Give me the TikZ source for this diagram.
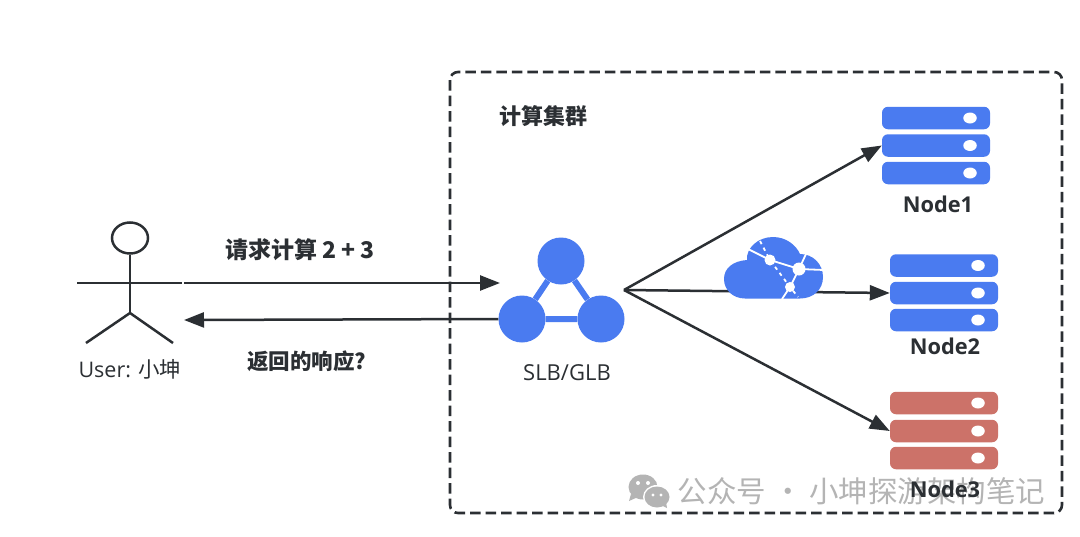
\documentclass[tikz,border=0pt]{standalone}
\usepackage{fontspec}
\setmainfont{Open Sans}
\newfontfamily\cjk{Noto Sans CJK SC}
\usetikzlibrary{arrows.meta,shapes.geometric}
\definecolor{bluefill}{HTML}{4A7BF0}
\definecolor{redfill}{HTML}{CC7269}
\definecolor{inkdark}{HTML}{2B2F33}
\definecolor{wm}{HTML}{B4B4B4}
\tikzset{
  rackbar/.style={rounded corners=6pt,minimum width=108pt,minimum height=22.5pt,inner sep=0pt,fill=#1,draw=none},
  rackdot/.style={ellipse,minimum width=13.5pt,minimum height=11pt,inner sep=0pt,fill=white,draw=none},
  hubball/.style={circle,minimum size=47pt,inner sep=0pt,fill=bluefill,draw=none},
  flow/.style={draw=inkdark,line width=2.5pt,-{Triangle[length=20pt,width=15pt]}},
  stick/.style={draw=inkdark,line width=2.5pt},
  netline/.style={draw=white,line width=1.8pt},
  netdash/.style={draw=white,line width=1.8pt,dash pattern=on 3.5pt off 4pt},
  title/.style={text=inkdark,inner sep=0pt,font=\fontsize{#1}{#1}\selectfont\bfseries},
  plainlabel/.style={text=inkdark,inner sep=0pt,font=\fontsize{#1}{#1}\selectfont}
}
\begin{document}
\begin{tikzpicture}[x=1pt,y=-1pt]
\useasboundingbox (0,0) rectangle (1080,536);
\fill[white] (0,0) rectangle (1080,536);

% cluster frame
\draw[draw=inkdark,line width=2.6pt,rounded corners=8pt,dash pattern=on 10.5pt off 5pt]
  (450,72) rectangle (1062,513);
\node[title=22] (clustertitle) at (543,116) {\cjk 计算集群};

% racks
\foreach \nm/\x/\ya/\yb/\yc/\col in {n1/936/118/145.5/173/bluefill, n2/944/265.5/293/320/bluefill, n3/944/403/431/458/redfill}{
  \node[rackbar=\col] (\nm a) at (\x,\ya) {};
  \node[rackbar=\col] (\nm b) at (\x,\yb) {};
  \node[rackbar=\col] (\nm c) at (\x,\yc) {};
  \node[rackdot] (\nm da) at (\x+34,\ya) {};
  \node[rackdot] (\nm db) at (\x+34,\yb) {};
  \node[rackdot] (\nm dc) at (\x+34,\yc) {};
}
\node[title=21.8] (label1) at (938,204) {Node1};
\node[title=21.8] (label2) at (945,346) {Node2};

% load balancer
\coordinate (hub) at (624,290);
\node[hubball] (top) at (561,261) {};
\node[hubball] (left) at (522,319) {};
\node[hubball] (right) at (601,319) {};
\draw[draw=bluefill,line width=6pt] (top) -- (left) -- (right) -- (top);
\node[plainlabel=22] (slb) at (567,373) {SLB/GLB};

% fan-out
\draw[flow] (hub) -- (n1b.west);
\draw[flow] (hub) -- (n2b.west);
\draw[flow] (hub) -- (n3b.west);

% cloud
\fill[bluefill] (745,298.5)
  .. controls (733,298.5) and (724,290) .. (724,279)
  .. controls (724,268) and (733,261) .. (747,260)
  .. controls (746,248) and (758,237) .. (773,237)
  .. controls (786,237) and (796,245) .. (800,254)
  .. controls (813,254) and (823,264) .. (823,277)
  .. controls (823,290) and (813,298.5) .. (800,298.5) -- cycle;
\coordinate (na) at (770,260);
\coordinate (nb) at (799,269);
\coordinate (nc) at (790,287);
\coordinate (e1) at (748,249);
\coordinate (e2) at (824,270);
\coordinate (e3) at (806,254);
\coordinate (e4) at (782,299);
\coordinate (e5) at (760,241);
\coordinate (e6) at (798,297);
\draw[netline] (e1) -- (na) -- (nb) -- (e2);
\draw[netline] (nb) -- (e3);
\draw[netline] (nb) -- (nc) -- (e4);
\draw[netdash] (e5) -- (na) -- (nc) -- (e6);
\fill[white] (na) circle (5.5pt) (nb) circle (6.5pt) (nc) circle (5pt);

% user figure
\coordinate (hip) at (130,313);
\coordinate (armL) at (77,283);
\coordinate (armR) at (182,283);
\coordinate (footL) at (86,343);
\coordinate (footR) at (173,343);
\node[draw=inkdark,line width=2.5pt,ellipse,minimum width=36pt,minimum height=31pt,inner sep=0pt] (head) at (130,238) {};
\draw[stick] (head.south) -- (hip);
\draw[stick] (armL) -- (armR);
\draw[stick] (footL) -- (hip) -- (footR);
\node[plainlabel=21.5] (user) at (130,369) {User: {\cjk 小坤}};

% request / response
\coordinate (reqstart) at (184,283);
\coordinate (reqend) at (500,283);
\coordinate (respend) at (184,320);
\draw[flow] (reqstart) -- (reqend);
\draw[flow] (left.west) -- (respend);
\node[title=23] (reqlabel) at (300,250) {\cjk 请求计算 2 + 3};
\node[title=21.5] (resplabel) at (307,361) {\cjk 返回的响应?};

% watermark, then node 3 label on top of it
\fill[wm] (643,487) ellipse (14.5pt and 12.5pt);
\fill[wm] (631,494) -- (629,501) -- (638,497) -- cycle;
\fill[white] (657,497) ellipse (14pt and 12pt);
\fill[wm] (657,497) ellipse (12.5pt and 10.5pt);
\fill[wm] (661,505) -- (667,508) -- (666,502) -- cycle;
\fill[white] (638,483) circle (2pt) (648,483) circle (2pt) (653,495) circle (1.7pt) (661,495) circle (1.7pt);
\node[text=wm,inner sep=0pt,font=\fontsize{29.5}{29.5}\selectfont\cjk] (watermark) at (861.5,491) {公众号 · 小坤探游架构笔记};
\node[title=21.8] (label3) at (945,489) {Node3};
\end{tikzpicture}
\end{document}
